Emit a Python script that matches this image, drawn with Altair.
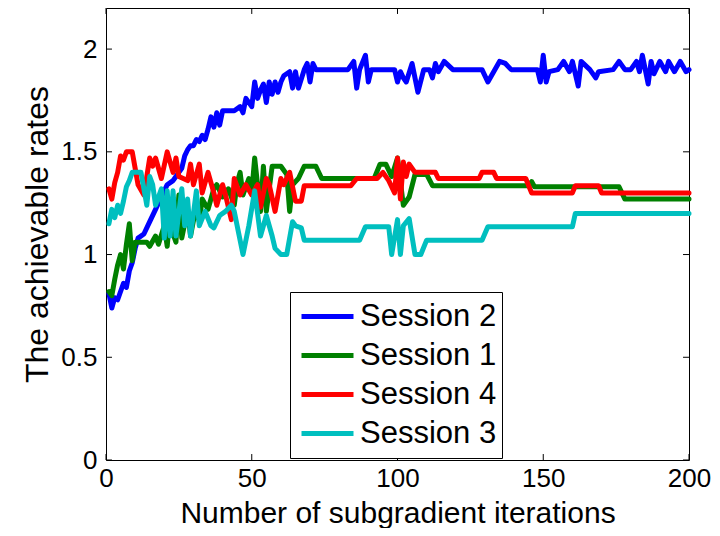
import altair as alt
import pandas as pd

# ---- data ----
session2 = [(1,0.81),(2,0.74),(3,0.79),(4,0.78),(5,0.82),(6,0.86),(7,0.84),(8,0.92),(9,0.96),(10,1.03),
            (11,1.08),(13,1.10),(15,1.16),(17,1.22),(19,1.28),(21,1.34),(23,1.36),(24,1.38),(25,1.40),(26,1.42),
            (27,1.48),(28,1.51),(29,1.53),(30,1.53),(31,1.56),(32,1.55),(33,1.58),(34,1.56),(35,1.61),(36,1.67),
            (37,1.62),(38,1.69),(39,1.63),(40,1.70),(41,1.70),(44,1.70),(46,1.72),(47,1.69),(48,1.76),(50,1.72),
            (51,1.84),(52,1.76),(53,1.80),(54,1.83),(55,1.74),(56,1.84),(57,1.78),(58,1.84),(59,1.79),(60,1.84),
            (61,1.87),(63,1.89),(64,1.81),(65,1.89),(66,1.81),(68,1.90),(69,1.93),(70,1.84),(71,1.93),(72,1.90),
            (83,1.90),(85,1.94),(86,1.81),(87,1.90),(89,1.97),(90,1.84),(91,1.90),(99,1.90),(100,1.84),(101,1.89),
            (102,1.86),(103,1.84),(105,1.93),(107,1.79),(109,1.90),(111,1.90),(112,1.86),(113,1.93),(114,1.89),(116,1.94),
            (119,1.90),(129,1.90),(131,1.84),(133,1.89),(135,1.94),(137,1.93),(139,1.90),(148,1.90),(149,1.84),(150,1.97),
            (151,1.84),(152,1.89),(155,1.90),(157,1.94),(159,1.89),(160,1.94),(162,1.82),(163,1.94),(166,1.90),(168,1.86),
            (169,1.89),(174,1.90),(176,1.94),(178,1.90),(180,1.90),(182,1.94),(183,1.89),(184,1.97),(186,1.83),(187,1.94),
            (188,1.88),(190,1.94),(192,1.89),(193,1.94),(195,1.89),(197,1.94),(199,1.89),(200,1.90)]

session1 = [(1,0.82),(2,0.80),(3,0.88),(4,0.95),(5,1.00),(6,0.93),(7,1.05),(8,1.15),(9,0.97),(10,1.06),
            (14,1.06),(15,1.04),(17,1.09),(18,1.05),(20,1.14),(21,1.04),(22,1.21),(23,1.10),(24,1.06),(25,1.29),
            (26,1.08),(28,1.22),(29,1.09),(31,1.24),(32,1.16),(33,1.27),(35,1.22),(37,1.32),(38,1.34),(40,1.28),
            (42,1.32),(44,1.24),(45,1.35),(46,1.40),(47,1.29),(49,1.37),(50,1.30),(51,1.47),(53,1.21),(54,1.43),
            (55,1.21),(57,1.43),(60,1.43),(62,1.39),(63,1.21),(64,1.34),(66,1.37),(68,1.43),(72,1.43),(74,1.37),
            (92,1.37),(94,1.44),(96,1.44),(98,1.38),(100,1.47),(102,1.24),(104,1.28),(106,1.39),(110,1.39),(112,1.335),
            (145,1.335),(146,1.355),(147,1.33),(176,1.33),(178,1.27),(200,1.27)]

session4 = [(1,1.32),(2,1.27),(3,1.35),(4,1.40),(5,1.48),(6,1.46),(7,1.50),(9,1.50),(10,1.42),(11,1.34),
            (13,1.29),(14,1.38),(15,1.47),(16,1.43),(17,1.47),(19,1.37),(21,1.50),(23,1.40),(24,1.47),(25,1.38),
            (28,1.36),(29,1.44),(30,1.34),(32,1.44),(33,1.30),(35,1.40),(37,1.30),(38,1.24),(40,1.34),(41,1.29),
            (43,1.17),(44,1.37),(46,1.29),(48,1.34),(50,1.29),(52,1.34),(53,1.23),(55,1.37),(56,1.34),(58,1.21),
            (60,1.37),(61,1.34),(63,1.40),(65,1.26),(67,1.26),(68,1.335),(84,1.335),(86,1.37),(93,1.37),(95,1.40),
            (97,1.36),(99,1.30),(100,1.47),(101,1.27),(102,1.45),(103,1.38),(104,1.44),(106,1.40),(113,1.40),(114,1.37),
            (128,1.37),(129,1.40),(133,1.40),(134,1.37),(144,1.37),(146,1.30),(160,1.30),(161,1.335),(169,1.335),(170,1.30),
            (200,1.30)]

session3 = [(1,1.15),(2,1.22),(3,1.18),(4,1.24),(5,1.20),(6,1.26),(7,1.33),(8,1.36),(9,1.40),(12,1.40),
            (14,1.24),(15,1.38),(16,1.34),(17,1.24),(19,1.32),(20,1.08),(21,1.31),(22,1.09),(23,1.31),(24,1.09),
            (26,1.32),(27,1.14),(28,1.27),(29,1.09),(31,1.31),(32,1.14),(34,1.21),(36,1.14),(37,1.13),(39,1.19),
            (41,1.21),(43,1.24),(44,1.21),(47,1.00),(49,1.14),(51,1.31),(53,1.09),(55,1.19),(57,1.09),(58,1.03),
            (60,1.00),(62,1.00),(64,1.16),(65,1.14),(67,1.13),(68,1.07),(87,1.07),(89,1.135),(97,1.135),(98,1.00),
            (100,1.17),(101,1.00),(102,1.14),(104,1.175),(106,1.00),(108,1.00),(110,1.07),(129,1.07),(131,1.135),(160,1.135),
            (161,1.20),(200,1.20)]

series_names = ["Session 2", "Session 1", "Session 4", "Session 3"]
series_colors = ["#0000ff", "#008000", "#ff0000", "#00bfbf"]
x_ticks = [0, 50, 100, 150, 200]
y_ticks = [0, 0.5, 1, 1.5, 2]
x_domain = [0, 200]
y_domain = [0, 2.2]

FONT = "Liberation Sans"

rows = []
for name, pts in zip(series_names, [session2, session1, session4, session3]):
    for k, (it, v) in enumerate(pts):
        rows.append({"series": name, "iter": it, "rate": v, "k": k})
df = pd.DataFrame(rows)

xs = alt.Scale(domain=x_domain, nice=False, zero=False)
ys = alt.Scale(domain=y_domain, nice=False, zero=False)

lines = alt.Chart(df).mark_line(strokeWidth=5, strokeJoin="round", strokeCap="round").encode(
    x=alt.X("iter:Q", scale=xs,
            axis=alt.Axis(values=x_ticks, title="Number of subgradient iterations", grid=False,
                          domain=False, ticks=False, labelPadding=5, labelFontSize=26,
                          labelFont=FONT, labelColor="black", titleFont=FONT, titleFontSize=30,
                          titleFontWeight="normal", titleColor="black", titleY=62,
                          titleBaseline="alphabetic", labelFlush=False)),
    y=alt.Y("rate:Q", scale=ys,
            axis=alt.Axis(values=y_ticks, format="~g", title="The achievable rates", grid=False,
                          domain=False, ticks=False, labelPadding=9, labelFontSize=26,
                          labelFont=FONT, labelColor="black", titleFont=FONT, titleFontSize=32,
                          titleFontWeight="normal", titleColor="black", titleX=-59,
                          titleBaseline="alphabetic", labelFlush=False)),
    color=alt.Color("series:N", sort=series_names,
                    scale=alt.Scale(domain=series_names, range=series_colors),
                    legend=alt.Legend(title=None, orient="none", legendX=184, legendY=284,
                                      direction="vertical", fillColor="white", strokeColor="black",
                                      padding=5, clipHeight=39, symbolType="stroke", symbolStrokeWidth=5,
                                      symbolSize=2704, symbolOffset=4, labelFontSize=31, labelFont=FONT,
                                      labelColor="black", labelOffset=4, rowPadding=0)),
    detail="series:N",
    order="k:Q",
)

# inward tick marks (MATLAB box style)
tick_dx = 2.05
tick_dy = 0.029
bottom = pd.DataFrame({"iter": x_ticks, "rate": [y_domain[0]] * 5, "rate2": [y_domain[0] + tick_dy] * 5})
top = pd.DataFrame({"iter": x_ticks, "rate": [y_domain[1]] * 5, "rate2": [y_domain[1] - tick_dy] * 5})
left = pd.DataFrame({"rate": y_ticks, "iter": [x_domain[0]] * 5, "iter2": [x_domain[0] + tick_dx] * 5})
right = pd.DataFrame({"rate": y_ticks, "iter": [x_domain[1]] * 5, "iter2": [x_domain[1] - tick_dx] * 5})

def vtick(d):
    return alt.Chart(d).mark_rule(color="black", strokeWidth=1).encode(
        x=alt.X("iter:Q", scale=xs), y=alt.Y("rate:Q", scale=ys), y2="rate2:Q")

def htick(d):
    return alt.Chart(d).mark_rule(color="black", strokeWidth=1).encode(
        x=alt.X("iter:Q", scale=xs), x2="iter2:Q", y=alt.Y("rate:Q", scale=ys))

chart = alt.layer(lines, vtick(bottom), vtick(top), htick(left), htick(right)).properties(
    width=583, height=452,
    autosize=alt.AutoSizeParams(type="none"),
    padding={"left": 98, "top": 0, "right": 23, "bottom": 68},
    background="white",
).configure_view(stroke="black", strokeWidth=1)

chart.save("out.html", embed_options={"renderer": "svg", "actions": False})
